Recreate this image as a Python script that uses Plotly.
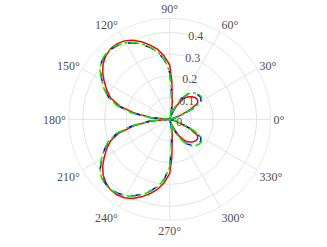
import plotly.graph_objects as go

# angles (deg) shared by all three curves
theta = [0, 5, 10, 15, 20, 25, 30, 35, 40, 45, 50, 55, 60, 65, 70, 72, 74, 76, 78, 81,
         84, 87, 90, 95, 100, 105, 110, 115, 120, 125, 130, 135, 140, 145, 150, 155,
         160, 165, 170, 175, 180,
         185, 190, 195, 200, 205, 210, 215, 220, 225, 230, 235, 240, 245, 250, 255,
         260, 265, 270, 273, 276, 279, 282, 284, 286, 288, 290, 295, 300, 305, 310,
         315, 320, 325, 330, 335, 340, 345, 350, 355, 360]

r_red = [0, 0, 0.005, 0.02, 0.05, 0.105, 0.148, 0.157, 0.155, 0.147, 0.136, 0.12, 0.092,
         0.056, 0.018, 0, 0.015, 0.035, 0.05, 0.075, 0.11, 0.18, 0.25, 0.293, 0.328,
         0.355, 0.38, 0.402, 0.417, 0.424, 0.424, 0.415, 0.40, 0.377, 0.348, 0.32,
         0.29, 0.24, 0.165, 0.085, 0,
         0.085, 0.165, 0.24, 0.29, 0.32, 0.348, 0.377, 0.40, 0.415, 0.424, 0.424,
         0.417, 0.402, 0.38, 0.355, 0.328, 0.293, 0.25, 0.18, 0.11, 0.075, 0.05,
         0.035, 0.015, 0, 0.018, 0.056, 0.092, 0.12, 0.136, 0.147, 0.155, 0.157,
         0.148, 0.105, 0.05, 0.02, 0.005, 0, 0]

r_blue = [0, 0, 0.006, 0.024, 0.058, 0.12, 0.165, 0.175, 0.173, 0.166, 0.156, 0.138, 0.108,
          0.07, 0.03, 0.012, 0, 0.015, 0.03, 0.055, 0.085, 0.14, 0.215, 0.275, 0.312,
          0.342, 0.366, 0.388, 0.405, 0.416, 0.421, 0.419, 0.41, 0.39, 0.36, 0.332,
          0.30, 0.252, 0.18, 0.092, 0,
          0.092, 0.18, 0.252, 0.30, 0.332, 0.36, 0.39, 0.41, 0.419, 0.421, 0.416,
          0.405, 0.388, 0.366, 0.342, 0.312, 0.275, 0.215, 0.14, 0.085, 0.055, 0.03,
          0.015, 0, 0.012, 0.03, 0.07, 0.108, 0.138, 0.156, 0.166, 0.173, 0.175,
          0.165, 0.12, 0.058, 0.024, 0.006, 0, 0]

r_green = [0, 0, 0.007, 0.026, 0.062, 0.124, 0.169, 0.179, 0.177, 0.170, 0.160, 0.142, 0.111,
           0.072, 0.031, 0.012, 0, 0.015, 0.031, 0.056, 0.087, 0.142, 0.217, 0.277, 0.314,
           0.344, 0.368, 0.39, 0.407, 0.418, 0.423, 0.421, 0.412, 0.392, 0.362, 0.334,
           0.302, 0.254, 0.182, 0.093, 0,
           0.093, 0.182, 0.254, 0.302, 0.334, 0.362, 0.392, 0.412, 0.421, 0.423, 0.418,
           0.407, 0.39, 0.368, 0.344, 0.314, 0.277, 0.217, 0.142, 0.087, 0.056, 0.031,
           0.015, 0, 0.012, 0.031, 0.072, 0.111, 0.142, 0.160, 0.170, 0.177, 0.179,
           0.169, 0.124, 0.062, 0.026, 0.007, 0, 0]

r_ticks = [0, 0.1, 0.2, 0.3, 0.4]
r_ticktext = ["0", "0.1", "0.2", "0.3", "0.4"]
ang_ticks = [0, 30, 60, 90, 120, 150, 180, 210, 240, 270, 300, 330]
ang_ticktext = ["0°", "30°", "60°", "90°", "120°", "150°", "180°",
                "210°", "240°", "270°", "300°", "330°"]

fig = go.Figure()
for r, color, dash in zip([r_red, r_blue, r_green],
                          ["#ff0000", "#0000ff", "#00ee00"],
                          ["solid", "dash", "dashdot"]):
    fig.add_trace(go.Scatterpolar(
        r=r, theta=theta, mode="lines",
        line={"color": color, "width": 1.5, "dash": dash},
    ))

grid = "#e3e3e3"
serif = "Liberation Serif, Times New Roman, DejaVu Serif, serif"
txt = "#505050"
fig.update_layout(
    template="none",
    width=327, height=247,
    margin={"l": 0, "r": 0, "t": 0, "b": 0},
    paper_bgcolor="white",
    showlegend=False,
    font={"family": serif, "size": 12, "color": txt},
    polar={
        "domain": {"x": [0.2101, 0.8278], "y": [0.1081, 0.9259]},
        "bgcolor": "white",
        "radialaxis": {
            "range": [0, 0.465], "tickmode": "array",
            "tickvals": r_ticks, "ticktext": r_ticktext,
            "angle": 82, "tickangle": 82, "side": "clockwise",
            "showline": False, "ticks": "",
            "gridcolor": grid, "gridwidth": 0.8,
            "tickfont": {"family": serif, "size": 12, "color": txt},
        },
        "angularaxis": {
            "tickmode": "array", "tickvals": ang_ticks, "ticktext": ang_ticktext,
            "ticks": "", "rotation": 0, "direction": "counterclockwise",
            "gridcolor": grid, "gridwidth": 0.8,
            "linecolor": grid, "linewidth": 0.8, "showline": True,
            "tickfont": {"family": serif, "size": 12, "color": txt},
        },
    },
)

# the page body has a default 8px margin; drop it so the figure sits at the corner
fig.write_html("out.html", config={"displayModeBar": False},
               post_script="document.body.style.margin = '0px';")
